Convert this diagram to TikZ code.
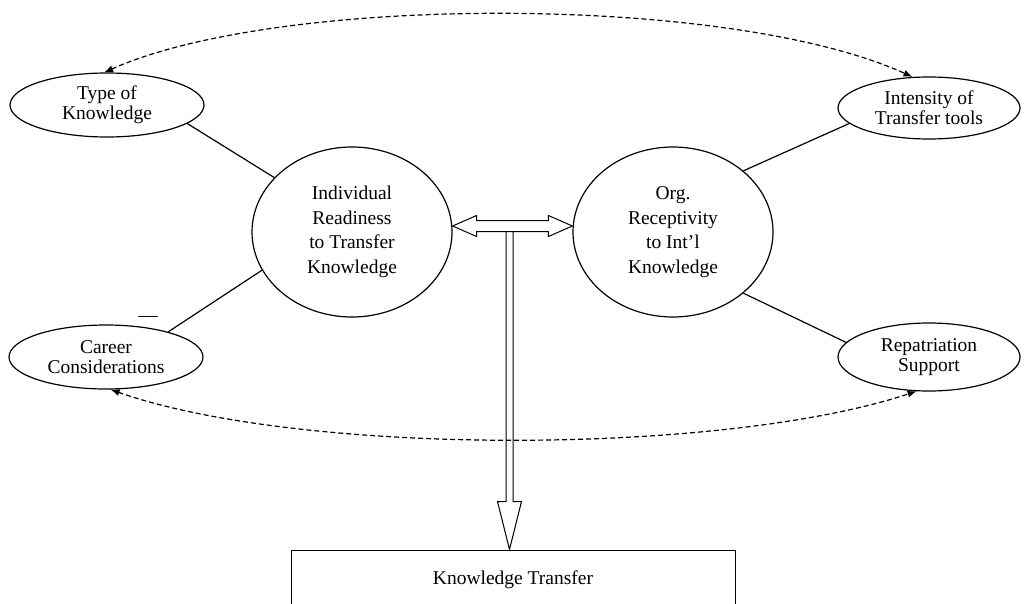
\documentclass[tikz,border=0pt]{standalone}
\usepackage{fontspec}
\setmainfont{Liberation Serif}
\usetikzlibrary{arrows.meta,shapes.geometric,calc}

\begin{document}
\begin{tikzpicture}[x=1pt,y=-1pt,line width=1.2pt,>={Latex[length=9pt,width=7pt]},
  font=\fontsize{19.5}{20}\selectfont,
  factor/.style={draw,ellipse,inner sep=0pt,minimum width=194pt,minimum height=64pt,align=center},
  core/.style={draw,ellipse,inner sep=0pt,minimum width=200pt,minimum height=170pt,align=center,font=\fontsize{19.5}{24.5}\selectfont},
  link/.style={<->,dash pattern=on 5pt off 3pt},
  fat/.style={line width=1pt}]
  \useasboundingbox (0,0) rectangle (1024,604);
  \clip (0,0) rectangle (1024,604);
  % factores (ovalos)
  \node[factor] (tok) at (107,105) {Type of\\Knowledge};
  \node[factor] (car) at (106,357) {Career\\Considerations};
  \node[factor,minimum width=182pt,minimum height=62pt] (int) at (929,108) {Intensity of\\Transfer tools};
  \node[factor,minimum width=182pt,minimum height=68pt] (rep) at (929,357) {Repatriation\\Support};
  % circulos centrales
  \node[core] (ind) at (352,232) {Individual\\Readiness\\to Transfer\\Knowledge};
  \node[core] (org) at (673,232) {Org.\\Receptivity\\to Int'l\\Knowledge};
  % resultado
  \node[draw,fat,minimum width=444pt,minimum height=60pt] (kt) at (513,580) {Knowledge Transfer};
  \node[inner sep=0pt] (neg) at (148,319) {---};
  % lineas solidas
  \draw (tok.-13) -- (ind.145);
  \draw (car.22) -- (ind.203);
  \draw (int.191) -- (org.41);
  \draw (rep.170) -- (org.-41);
  % arcos punteados
  \draw[link] (tok.95) .. controls (280,-6) and (730,-6) .. (int.118);
  \draw[link] (car.278) .. controls (300,456) and (720,456) .. (rep.250);
  % flechas huecas
  \coordinate (hl) at ([yshift=6pt]ind.east);
  \coordinate (hr) at ([yshift=6pt]org.west);
  \draw[fat] (hl) -- ++(24,-10.5) -- ++(0,5) -- ($(hr)+(-24,-5.5)$) -- ++(0,-5) -- (hr)
    -- ++(-24,10.5) -- ++(0,-5) -- ($(hl)+(24,5.5)$) -- ++(0,5) -- cycle;
  \coordinate (vt) at (509.5,231.5);
  \coordinate (vb) at (vt |- kt.north);
  \draw[fat] ($(vt)+(-3.5,0)$) -- ($(vb)+(-3.5,-48)$) -- ++(-8.5,0) -- (vb) -- ++(12,-48)
    -- ++(-8.5,0) -- ($(vt)+(3.5,0)$);
\end{tikzpicture}
\end{document}
